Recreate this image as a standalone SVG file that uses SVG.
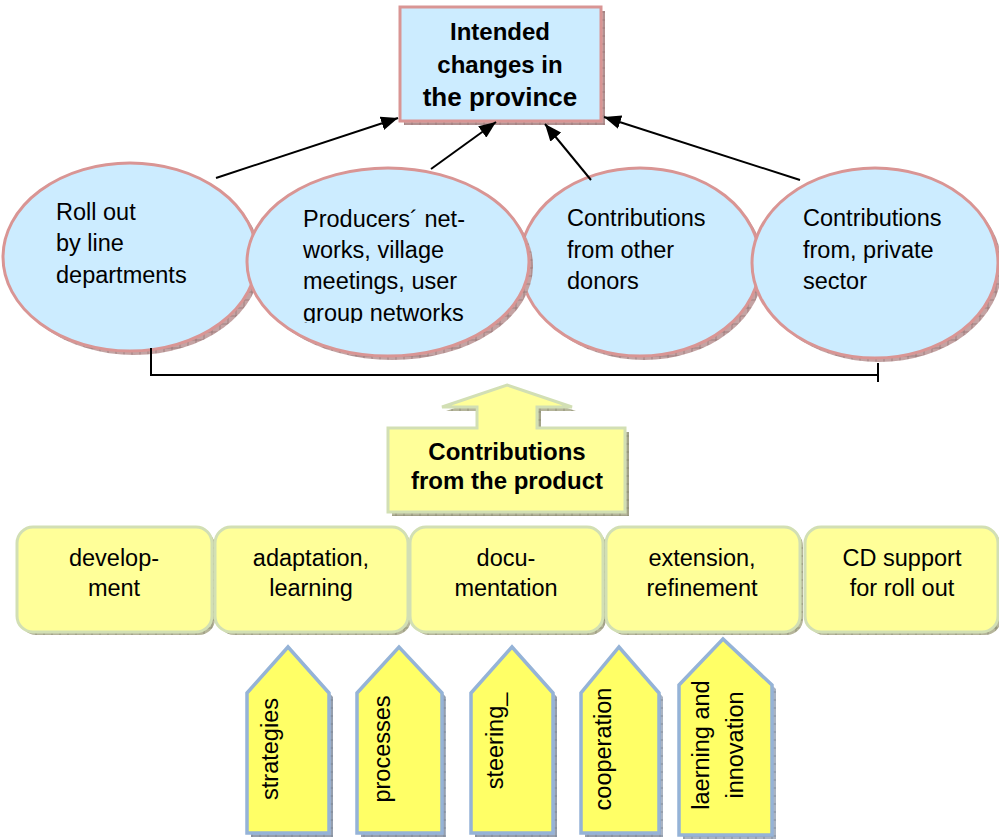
<svg xmlns="http://www.w3.org/2000/svg" width="999" height="840" viewBox="0 0 999 840">
  <style>
    .txt { font-family: "Liberation Sans", Arial, sans-serif; font-size: 23.5px; fill: #000; }
    .bold { font-family: "Liberation Sans", Arial, sans-serif; font-weight: bold; font-size: 24px; fill: #000; }
    .mid { text-anchor: middle; }
    .blue { fill: #CCECFF; stroke: #D99594; stroke-width: 3; }
    .yel { fill: #FFFF99; stroke: #D2DFB4; stroke-width: 3; }
    .pent { fill: #FFFF66; stroke: #95B3D7; stroke-width: 3.5; }
    .sh-rose { fill: url(#hatchRose); }
    .sh-yel { fill: url(#hatchYel); }
    .sh-blue { fill: url(#hatchBlue); }
    .conn { stroke: #000; stroke-width: 2; fill: none; }
  </style>
  <defs>
    <pattern id="hatchRose" width="8" height="8" patternUnits="userSpaceOnUse">
      <rect width="8" height="8" fill="#C4A3A3"/>
      <path d="M0 4 H8 M4 0 V8" stroke="#8E6E6E" stroke-width="0.7"/>
    </pattern>
    <pattern id="hatchYel" width="8" height="8" patternUnits="userSpaceOnUse">
      <rect width="8" height="8" fill="#B5B59A"/>
      <path d="M0 4 H8 M4 0 V8" stroke="#7F7F6A" stroke-width="0.7"/>
    </pattern>
    <pattern id="hatchBlue" width="8" height="8" patternUnits="userSpaceOnUse">
      <rect width="8" height="8" fill="#A9B3C2"/>
      <path d="M0 4 H8 M4 0 V8" stroke="#6F7888" stroke-width="0.7"/>
    </pattern>
    <marker id="head" markerUnits="userSpaceOnUse" markerWidth="18" markerHeight="14" refX="17" refY="7" orient="auto">
      <path d="M0 0 L17 7 L0 14 Z" fill="#000"/>
    </marker>
    <clipPath id="clipProducers">
      <rect x="240" y="160" width="300" height="163"/>
    </clipPath>
  </defs>

  <!-- goal box -->
  <g id="intended-changes">
    <rect x="404" y="11" width="201" height="114" class="sh-rose"/>
    <rect x="400" y="7" width="201" height="114" class="blue"/>
    <text class="bold mid" x="500" y="40">Intended</text>
    <text class="bold mid" x="500" y="73">changes in</text>
    <text class="bold mid" x="500" y="106" style="font-size:26px">the province</text>
  </g>

  <!-- channels -->
  <g id="roll-out">
    <ellipse cx="134" cy="261" rx="127" ry="94" class="sh-rose"/>
    <ellipse cx="130" cy="257" rx="127" ry="94" class="blue"/>
    <text class="txt" x="56" y="220">Roll out</text>
    <text class="txt" x="56" y="251">by line</text>
    <text class="txt" x="56" y="283">departments</text>
  </g>
  <g id="other-donors">
    <ellipse cx="644" cy="266" rx="120" ry="94" class="sh-rose"/>
    <ellipse cx="640" cy="262" rx="120" ry="94" class="blue"/>
    <text class="txt" x="567" y="226">Contributions</text>
    <text class="txt" x="567" y="258">from other</text>
    <text class="txt" x="567" y="289">donors</text>
  </g>
  <g id="producers-networks">
    <ellipse cx="392" cy="266" rx="141" ry="94" class="sh-rose"/>
    <ellipse cx="388" cy="262" rx="141" ry="94" class="blue"/>
    <g clip-path="url(#clipProducers)">
      <text class="txt" x="303" y="227">Producers´ net-</text>
      <text class="txt" x="303" y="258">works, village</text>
      <text class="txt" x="303" y="289">meetings, user</text>
      <text class="txt" x="303" y="321">group networks</text>
    </g>
  </g>
  <g id="private-sector">
    <ellipse cx="879" cy="267" rx="123" ry="95" class="sh-rose"/>
    <ellipse cx="875" cy="263" rx="123" ry="95" class="blue"/>
    <text class="txt" x="803" y="226">Contributions</text>
    <text class="txt" x="803" y="258">from, private</text>
    <text class="txt" x="803" y="289">sector</text>
  </g>

  <!-- connectors -->
  <g id="connectors">
    <line class="conn" x1="216" y1="178" x2="398" y2="118" marker-end="url(#head)"/>
    <line class="conn" x1="431" y1="169" x2="496" y2="122" marker-end="url(#head)"/>
    <line class="conn" x1="591" y1="180" x2="545" y2="124" marker-end="url(#head)"/>
    <line class="conn" x1="800" y1="180" x2="604" y2="117" marker-end="url(#head)"/>
    <path class="conn" d="M151 348 V375 H878 M878 363 V382" stroke-width="2.5"/>
  </g>

  <!-- product contribution -->
  <g id="product">
    <path class="sh-yel" d="M511 389 L576 411 L541 411 L541 432 L629 432 L629 516 L392 516 L392 432 L481 432 L481 411 L446 411 Z"/>
    <path class="yel" d="M507 385 L572 407 L537 407 L537 428 L625 428 L625 512 L388 512 L388 428 L477 428 L477 407 L442 407 Z"/>
    <text class="bold mid" x="507" y="460">Contributions</text>
    <text class="bold mid" x="507" y="489">from the product</text>
  </g>

  <!-- product phases -->
  <g id="development">
    <rect x="20" y="530" width="195" height="105" rx="16" class="sh-yel"/>
    <rect x="17" y="527" width="195" height="105" rx="16" class="yel"/>
    <text class="txt mid" x="114" y="566">develop-</text>
    <text class="txt mid" x="114" y="596">ment</text>
  </g>
  <g id="adaptation">
    <rect x="218" y="530" width="193" height="105" rx="16" class="sh-yel"/>
    <rect x="215" y="527" width="193" height="105" rx="16" class="yel"/>
    <text class="txt mid" x="311" y="566">adaptation,</text>
    <text class="txt mid" x="311" y="596">learning</text>
  </g>
  <g id="documentation">
    <rect x="413" y="530" width="193" height="105" rx="16" class="sh-yel"/>
    <rect x="410" y="527" width="193" height="105" rx="16" class="yel"/>
    <text class="txt mid" x="506" y="566">docu-</text>
    <text class="txt mid" x="506" y="596">mentation</text>
  </g>
  <g id="extension">
    <rect x="609" y="530" width="194" height="105" rx="16" class="sh-yel"/>
    <rect x="606" y="527" width="194" height="105" rx="16" class="yel"/>
    <text class="txt mid" x="702" y="566">extension,</text>
    <text class="txt mid" x="702" y="596">refinement</text>
  </g>
  <g id="cd-support">
    <rect x="808" y="530" width="193" height="105" rx="16" class="sh-yel"/>
    <rect x="805" y="527" width="193" height="105" rx="16" class="yel"/>
    <text class="txt mid" x="902" y="566">CD support</text>
    <text class="txt mid" x="902" y="596">for roll out</text>
  </g>

  <!-- inputs -->
  <g id="strategies">
    <path class="sh-blue" d="M251 837 V697 L292 651 L333 697 V837 Z"/>
    <path class="pent" d="M247 833 V693 L288 647 L329 693 V833 Z"/>
    <text class="txt mid" transform="translate(278 749) rotate(-90)">strategies</text>
  </g>
  <g id="processes">
    <path class="sh-blue" d="M361 837 V697 L403 651 L446 697 V837 Z"/>
    <path class="pent" d="M357 833 V693 L399 647 L442 693 V833 Z"/>
    <text class="txt mid" transform="translate(390 749) rotate(-90)">processes</text>
  </g>
  <g id="steering">
    <path class="sh-blue" d="M475 837 V697 L516 651 L557 697 V837 Z"/>
    <path class="pent" d="M471 833 V693 L512 647 L553 693 V833 Z"/>
    <text class="txt mid" transform="translate(503 741) rotate(-90)">steering_</text>
  </g>
  <g id="cooperation">
    <path class="sh-blue" d="M585 837 V697 L623 651 L663 697 V837 Z"/>
    <path class="pent" d="M581 833 V693 L619 647 L659 693 V833 Z"/>
    <text class="txt mid" transform="translate(611 749) rotate(-90)">cooperation</text>
  </g>
  <g id="learning-innovation">
    <path class="sh-blue" d="M683 839 V689 L727 643 L776 689 V839 Z"/>
    <path class="pent" d="M679 835 V685 L723 639 L772 685 V835 Z"/>
    <text class="txt mid" transform="translate(709 745) rotate(-90)">laerning and</text>
    <text class="txt mid" transform="translate(743 745) rotate(-90)">innovation</text>
  </g>
</svg>
